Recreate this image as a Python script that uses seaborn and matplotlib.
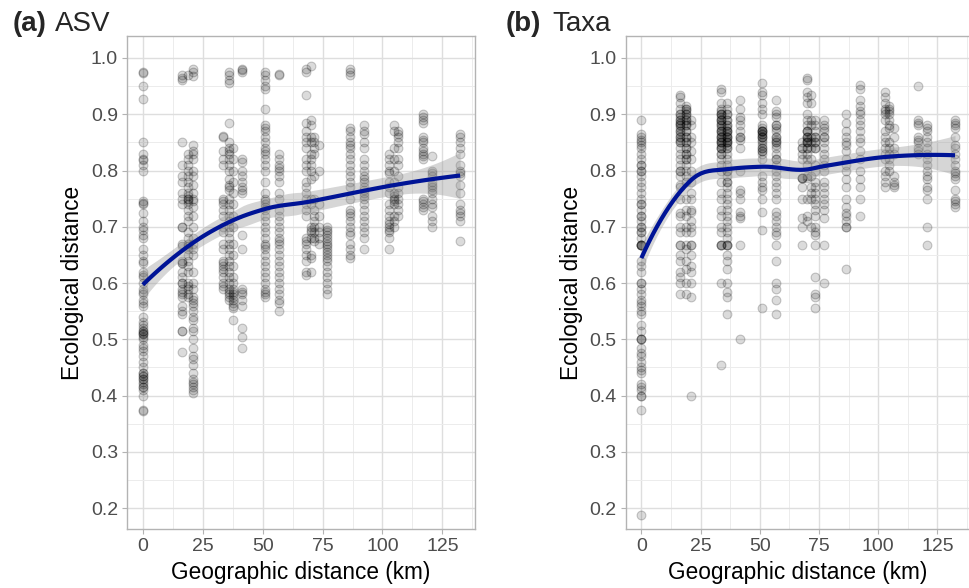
import numpy as np
import pandas as pd
import matplotlib
matplotlib.use("Agg")
import matplotlib.pyplot as plt
import seaborn as sns

# site-pair distances (km), one column of points per distance
dist = [0, 16.5, 19, 21, 33.5, 36, 37.5, 41.5, 51, 57, 68, 70, 71.5, 73.5, 77,
        86.3, 92.3, 102.7, 104.7, 106.6, 116.8, 120.6, 132.4]

# (a) ASV - ecological distance per column
asv_00 = [0.975, 0.973, 0.95, 0.927, 0.85, 0.83, 0.82, 0.818, 0.81, 0.80, 0.745, 0.742,
          0.74, 0.725, 0.71, 0.70, 0.695, 0.685, 0.68, 0.66, 0.65, 0.64, 0.635, 0.62,
          0.615, 0.61, 0.60, 0.59, 0.585, 0.58, 0.57, 0.565, 0.56, 0.54, 0.53, 0.525,
          0.52, 0.515, 0.515, 0.512, 0.51, 0.51, 0.505, 0.50, 0.49, 0.485, 0.48, 0.47,
          0.46, 0.45, 0.44, 0.44, 0.435, 0.435, 0.43, 0.43, 0.425, 0.42, 0.415, 0.415,
          0.41, 0.40, 0.375, 0.372]
asv_16 = [0.97, 0.965, 0.96, 0.85, 0.81, 0.79, 0.78, 0.76, 0.75, 0.74, 0.70, 0.70,
          0.67, 0.665, 0.64, 0.635, 0.635, 0.62, 0.61, 0.60, 0.60, 0.59, 0.585, 0.58,
          0.575, 0.56, 0.55, 0.545, 0.515, 0.515, 0.478]
asv_19 = [0.97, 0.83, 0.82, 0.81, 0.80, 0.79, 0.78, 0.77, 0.76, 0.755, 0.75, 0.75,
          0.745, 0.74, 0.73, 0.72, 0.71, 0.69, 0.68, 0.67, 0.665, 0.66, 0.65, 0.64,
          0.63, 0.62, 0.60, 0.595, 0.59, 0.58, 0.575]
asv_21 = [0.98, 0.975, 0.968, 0.845, 0.835, 0.83, 0.82, 0.80, 0.79, 0.775, 0.76, 0.75,
          0.745, 0.735, 0.72, 0.70, 0.68, 0.67, 0.66, 0.65, 0.62, 0.60, 0.59, 0.575,
          0.57, 0.565, 0.56, 0.55, 0.54, 0.535, 0.52, 0.515, 0.50, 0.485, 0.47, 0.465,
          0.455, 0.44, 0.43, 0.425, 0.42, 0.415, 0.41, 0.405]
asv_33 = [0.862, 0.86, 0.835, 0.82, 0.81, 0.75, 0.745, 0.74, 0.73, 0.72, 0.70, 0.69,
          0.67, 0.66, 0.64, 0.635, 0.63, 0.625, 0.62, 0.61, 0.60, 0.595, 0.59]
asv_36 = [0.975, 0.97, 0.96, 0.955, 0.885, 0.85, 0.84, 0.835, 0.83, 0.82, 0.81, 0.80,
          0.785, 0.775, 0.77, 0.765, 0.75, 0.74, 0.73, 0.72, 0.71, 0.70, 0.69, 0.68,
          0.67, 0.66, 0.65, 0.64, 0.63, 0.62, 0.61, 0.60, 0.59, 0.585, 0.58, 0.575, 0.57]
asv_37 = [0.84, 0.82, 0.80, 0.78, 0.76, 0.74, 0.72, 0.70, 0.67, 0.65, 0.63, 0.61,
          0.60, 0.59, 0.585, 0.58, 0.575, 0.57, 0.565, 0.56, 0.555, 0.535]
asv_41 = [0.98, 0.978, 0.975, 0.82, 0.815, 0.80, 0.79, 0.78, 0.77, 0.765, 0.76, 0.685,
          0.66, 0.59, 0.585, 0.58, 0.57, 0.56, 0.52, 0.505, 0.485]
asv_51 = [0.975, 0.97, 0.96, 0.95, 0.945, 0.91, 0.88, 0.875, 0.87, 0.86, 0.85, 0.84,
          0.835, 0.83, 0.82, 0.81, 0.80, 0.78, 0.76, 0.75, 0.745, 0.74, 0.735, 0.73,
          0.72, 0.71, 0.70, 0.69, 0.68, 0.67, 0.665, 0.66, 0.65, 0.64, 0.63, 0.62,
          0.61, 0.60, 0.59, 0.585, 0.58, 0.575]
asv_57 = [0.972, 0.97, 0.83, 0.82, 0.81, 0.805, 0.80, 0.79, 0.78, 0.76, 0.75, 0.73,
          0.72, 0.71, 0.70, 0.69, 0.68, 0.675, 0.67, 0.66, 0.65, 0.64, 0.63, 0.62,
          0.61, 0.60, 0.59, 0.58, 0.57, 0.565, 0.55]
asv_68 = [0.98, 0.975, 0.935, 0.885, 0.87, 0.86, 0.85, 0.84, 0.82, 0.81, 0.80, 0.78,
          0.77, 0.76, 0.75, 0.74, 0.73, 0.72, 0.68, 0.675, 0.67, 0.66, 0.65, 0.64,
          0.62, 0.615]
asv_70 = [0.985, 0.89, 0.88, 0.86, 0.85, 0.83, 0.82, 0.81, 0.80, 0.785, 0.75, 0.74,
          0.70, 0.695, 0.69, 0.68, 0.65, 0.645, 0.62]
asv_71 = [0.86, 0.85, 0.84, 0.83, 0.79, 0.75, 0.73, 0.72, 0.71, 0.70, 0.69, 0.68, 0.675]
asv_73 = [0.845, 0.80, 0.74, 0.72, 0.70, 0.69, 0.68, 0.67]
asv_77 = [0.70, 0.695, 0.69, 0.685, 0.68, 0.675, 0.67, 0.665, 0.66, 0.655, 0.65, 0.645,
          0.64, 0.63, 0.62, 0.61, 0.60, 0.59, 0.58]
asv_86 = [0.98, 0.975, 0.97, 0.875, 0.87, 0.86, 0.85, 0.845, 0.84, 0.83, 0.82, 0.81,
          0.80, 0.79, 0.78, 0.77, 0.75, 0.73, 0.725, 0.72, 0.71, 0.70, 0.69, 0.685,
          0.67, 0.66, 0.65, 0.645]
asv_92 = [0.88, 0.87, 0.865, 0.85, 0.84, 0.82, 0.81, 0.80, 0.79, 0.785, 0.78, 0.77,
          0.765, 0.76, 0.755, 0.75, 0.74, 0.73, 0.72, 0.71, 0.70, 0.69, 0.68, 0.66]
asv_102 = [0.83, 0.82, 0.81, 0.80, 0.795, 0.78, 0.77, 0.76, 0.74, 0.73, 0.72, 0.71,
           0.705, 0.70, 0.695, 0.69, 0.68, 0.66]
asv_104 = [0.88, 0.87, 0.84, 0.82, 0.80, 0.78, 0.76, 0.755, 0.75, 0.745, 0.74, 0.72,
           0.71, 0.70]
asv_106 = [0.87, 0.865, 0.86, 0.85, 0.84, 0.82, 0.81, 0.79, 0.77, 0.76, 0.75, 0.74,
           0.73, 0.72]
asv_116 = [0.90, 0.895, 0.89, 0.885, 0.86, 0.855, 0.85, 0.84, 0.835, 0.83, 0.825, 0.82,
           0.75, 0.745, 0.74, 0.735, 0.73]
asv_120 = [0.825, 0.80, 0.795, 0.79, 0.78, 0.775, 0.77, 0.765, 0.76, 0.75, 0.74, 0.735,
           0.72, 0.71, 0.70]
asv_132 = [0.865, 0.86, 0.85, 0.84, 0.83, 0.81, 0.80, 0.795, 0.79, 0.775, 0.76, 0.74,
           0.73, 0.725, 0.72, 0.71, 0.675]

# (b) Taxa - ecological distance per column
tax_00 = [0.89, 0.865, 0.86, 0.855, 0.85, 0.845, 0.84, 0.83, 0.82, 0.81, 0.81, 0.80,
          0.80, 0.79, 0.78, 0.77, 0.76, 0.75, 0.74, 0.74, 0.73, 0.72, 0.72, 0.71, 0.70,
          0.70, 0.69, 0.69, 0.68, 0.667, 0.667, 0.667, 0.667, 0.667, 0.64, 0.63, 0.62,
          0.60, 0.60, 0.59, 0.58, 0.57, 0.565, 0.56, 0.55, 0.545, 0.525, 0.515, 0.50,
          0.50, 0.50, 0.485, 0.475, 0.47, 0.46, 0.45, 0.445, 0.44, 0.42, 0.415, 0.41,
          0.40, 0.40, 0.375, 0.187]
tax_16 = [0.935, 0.93, 0.92, 0.91, 0.90, 0.90, 0.895, 0.89, 0.89, 0.885, 0.885, 0.88,
          0.88, 0.875, 0.87, 0.87, 0.865, 0.86, 0.86, 0.855, 0.85, 0.85, 0.84, 0.83,
          0.82, 0.81, 0.80, 0.80, 0.79, 0.775, 0.77, 0.75, 0.725, 0.72, 0.70, 0.69,
          0.667, 0.667, 0.65, 0.64, 0.62, 0.61, 0.60, 0.58]
tax_19 = [0.915, 0.91, 0.91, 0.905, 0.90, 0.90, 0.895, 0.89, 0.89, 0.885, 0.88, 0.88,
          0.87, 0.87, 0.86, 0.86, 0.85, 0.85, 0.84, 0.84, 0.83, 0.83, 0.82, 0.82, 0.81,
          0.80, 0.79, 0.78, 0.75, 0.73, 0.72, 0.70, 0.69, 0.667, 0.66, 0.64, 0.625,
          0.60, 0.58]
tax_21 = [0.89, 0.88, 0.86, 0.85, 0.835, 0.82, 0.80, 0.78, 0.76, 0.75, 0.73, 0.727,
          0.71, 0.70, 0.69, 0.667, 0.667, 0.65, 0.63, 0.62, 0.60, 0.575, 0.40]
tax_33 = [0.945, 0.94, 0.92, 0.91, 0.905, 0.90, 0.90, 0.90, 0.895, 0.89, 0.89, 0.89,
          0.885, 0.88, 0.88, 0.875, 0.87, 0.87, 0.87, 0.865, 0.86, 0.86, 0.86, 0.855,
          0.85, 0.85, 0.85, 0.845, 0.84, 0.84, 0.84, 0.83, 0.83, 0.82, 0.81, 0.80,
          0.78, 0.76, 0.75, 0.73, 0.72, 0.70, 0.69, 0.667, 0.667, 0.667, 0.60, 0.455]
tax_36 = [0.92, 0.91, 0.90, 0.90, 0.89, 0.89, 0.88, 0.88, 0.875, 0.87, 0.87, 0.87,
          0.865, 0.86, 0.86, 0.86, 0.855, 0.85, 0.85, 0.85, 0.845, 0.84, 0.84, 0.83,
          0.82, 0.81, 0.80, 0.80, 0.79, 0.78, 0.78, 0.77, 0.76, 0.75, 0.74, 0.73,
          0.72, 0.71, 0.70, 0.69, 0.68, 0.667, 0.667, 0.667, 0.65, 0.64, 0.625, 0.60,
          0.585, 0.575, 0.545]
tax_37 = []
tax_41 = [0.925, 0.91, 0.895, 0.89, 0.88, 0.87, 0.86, 0.86, 0.855, 0.84, 0.80, 0.765,
          0.76, 0.75, 0.727, 0.72, 0.715, 0.667, 0.50]
tax_51 = [0.955, 0.94, 0.935, 0.92, 0.91, 0.90, 0.88, 0.875, 0.87, 0.87, 0.87, 0.87,
          0.865, 0.865, 0.86, 0.86, 0.86, 0.855, 0.85, 0.845, 0.84, 0.84, 0.835, 0.835,
          0.83, 0.82, 0.79, 0.78, 0.77, 0.765, 0.75, 0.727, 0.695, 0.555]
tax_57 = [0.925, 0.905, 0.90, 0.895, 0.88, 0.88, 0.875, 0.87, 0.86, 0.86, 0.855,
          0.85, 0.85, 0.845, 0.84, 0.83, 0.82, 0.82, 0.81, 0.80, 0.79, 0.78, 0.77,
          0.76, 0.75, 0.727, 0.72, 0.71, 0.70, 0.69, 0.685, 0.667, 0.64, 0.60, 0.59,
          0.57, 0.545]
tax_68 = [0.85, 0.84, 0.84, 0.83, 0.82, 0.786, 0.786, 0.786, 0.77, 0.75, 0.715, 0.70,
          0.667]
tax_70 = [0.965, 0.96, 0.94, 0.93, 0.92, 0.90, 0.89, 0.88, 0.87, 0.87, 0.87, 0.86,
          0.86, 0.86, 0.855, 0.85, 0.85, 0.85, 0.84, 0.84, 0.83, 0.82, 0.81, 0.79,
          0.787, 0.75, 0.72, 0.71]
tax_71 = [0.935, 0.92, 0.89, 0.88, 0.86, 0.85, 0.84, 0.82, 0.79, 0.77, 0.76, 0.75, 0.70]
tax_73 = [0.89, 0.88, 0.87, 0.86, 0.86, 0.85, 0.85, 0.84, 0.84, 0.81, 0.80, 0.78,
          0.77, 0.76, 0.75, 0.74, 0.73, 0.72, 0.70, 0.69, 0.685, 0.667, 0.61, 0.58,
          0.575, 0.555]
tax_77 = [0.89, 0.88, 0.875, 0.87, 0.86, 0.86, 0.85, 0.84, 0.83, 0.82, 0.81, 0.80,
          0.78, 0.77, 0.76, 0.75, 0.74, 0.73, 0.715, 0.667, 0.60]
tax_86 = [0.90, 0.885, 0.87, 0.86, 0.85, 0.845, 0.835, 0.82, 0.81, 0.80, 0.785, 0.77,
          0.75, 0.735, 0.725, 0.72, 0.71, 0.70, 0.70, 0.625]
tax_92 = [0.952, 0.945, 0.925, 0.915, 0.905, 0.90, 0.89, 0.88, 0.87, 0.857, 0.85,
          0.835, 0.82, 0.80, 0.785, 0.77, 0.75, 0.72]
tax_102 = [0.94, 0.93, 0.92, 0.91, 0.905, 0.90, 0.89, 0.87, 0.86, 0.85, 0.84, 0.83,
           0.82, 0.80, 0.79, 0.78, 0.77]
tax_104 = [0.915, 0.91, 0.905, 0.90, 0.89, 0.88, 0.875, 0.85, 0.84, 0.83, 0.82, 0.81, 0.80]
tax_106 = [0.875, 0.86, 0.84, 0.83, 0.79, 0.78, 0.775, 0.77]
tax_116 = [0.95, 0.89, 0.885, 0.88, 0.86, 0.855, 0.85, 0.84, 0.835, 0.83]
tax_120 = [0.88, 0.875, 0.87, 0.86, 0.85, 0.84, 0.83, 0.82, 0.81, 0.80, 0.79, 0.785,
           0.77, 0.765, 0.75, 0.70, 0.667]
tax_132 = [0.89, 0.885, 0.88, 0.875, 0.86, 0.845, 0.84, 0.83, 0.82, 0.81, 0.80, 0.795,
           0.79, 0.785, 0.765, 0.75, 0.745, 0.74, 0.735]

asv_cols = [asv_00, asv_16, asv_19, asv_21, asv_33, asv_36, asv_37, asv_41, asv_51,
            asv_57, asv_68, asv_70, asv_71, asv_73, asv_77, asv_86, asv_92, asv_102,
            asv_104, asv_106, asv_116, asv_120, asv_132]
tax_cols = [tax_00, tax_16, tax_19, tax_21, tax_33, tax_36, tax_37, tax_41, tax_51,
            tax_57, tax_68, tax_70, tax_71, tax_73, tax_77, tax_86, tax_92, tax_102,
            tax_104, tax_106, tax_116, tax_120, tax_132]


def to_frame(cols):
    rows = [(d, v) for d, vals in zip(dist, cols) for v in vals]
    return pd.DataFrame(rows, columns=["geo", "eco"])


def loess(x, y, xs, span=0.75, cell=0.2):
    # local quadratic fit with tricube weights (R loess defaults),
    # evaluated on kd-tree vertices and joined by cubic Hermite pieces
    n = len(x)
    q = int(np.floor(n * span))

    def coef_rows(x0):
        d = np.abs(x - x0)
        h = np.sort(d)[q - 1] * 1.0001
        w = np.clip(1 - (d / h) ** 3, 0, None) ** 3
        X = np.column_stack([np.ones(n), x - x0, (x - x0) ** 2])
        XtW = X.T * w
        return np.linalg.solve(XtW @ X, XtW)

    # kd-tree vertices
    fc = int(np.floor(n * span * cell))
    verts = {x.min(), x.max()}

    def split(vals):
        if len(vals) <= fc or vals[0] == vals[-1]:
            return
        m = len(vals) // 2
        v = 0.5 * (vals[m - 1] + vals[m])
        left, right = vals[vals <= v], vals[vals > v]
        if len(left) == 0 or len(right) == 0:
            return
        verts.add(v)
        split(left)
        split(right)

    split(np.sort(x))
    vx = np.array(sorted(verts))
    vrows = [coef_rows(v) for v in vx]
    vf = np.array([r[0] @ y for r in vrows])
    vs = np.array([r[1] @ y for r in vrows])

    idx = np.clip(np.searchsorted(vx, xs, side="right") - 1, 0, len(vx) - 2)
    x0, x1 = vx[idx], vx[idx + 1]
    hh = x1 - x0
    t = (xs - x0) / hh
    h00 = 2 * t ** 3 - 3 * t ** 2 + 1
    h10 = t ** 3 - 2 * t ** 2 + t
    h01 = -2 * t ** 3 + 3 * t ** 2
    h11 = t ** 3 - t ** 2
    fit = h00 * vf[idx] + h10 * hh * vs[idx] + h01 * vf[idx + 1] + h11 * hh * vs[idx + 1]

    # standard error from the direct local fit
    L = np.array([coef_rows(v)[0] for v in x])
    resid = y - L @ y
    M = np.eye(n) - L
    sigma2 = (resid ** 2).sum() / np.trace(M.T @ M)
    Le = np.array([coef_rows(v)[0] for v in xs])
    se = np.sqrt(sigma2 * (Le ** 2).sum(axis=1))
    return fit, se


sns.set_theme(style="whitegrid")
plt.rcParams["font.family"] = ["Liberation Sans", "DejaVu Sans"]

fig = plt.figure(figsize=(9.7, 5.88), dpi=100)
ax_a = fig.add_axes([127 / 970, 59 / 588, 348 / 970, 493 / 588])
ax_b = fig.add_axes([625.7 / 970, 59 / 588, 344 / 970, 493 / 588])

panels = [(ax_a, to_frame(asv_cols), "(a)", "ASV", 13, 55),
          (ax_b, to_frame(tax_cols), "(b)", "Taxa", 506, 552)]

for ax, df, tag, name, tx, nx in panels:
    sns.scatterplot(data=df, x="geo", y="eco", ax=ax, s=40,
                    facecolor=(0, 0, 0, 0.14), edgecolor=(0, 0, 0, 0.2),
                    linewidth=0.8, zorder=3)
    xs = np.linspace(df["geo"].min(), df["geo"].max(), 80)
    fit, se = loess(df["geo"].to_numpy(float), df["eco"].to_numpy(float), xs)
    ax.fill_between(xs, fit - 1.96 * se, fit + 1.96 * se, color="#999999",
                    alpha=0.4, linewidth=0, zorder=4)
    ax.plot(xs, fit, color="#001496", linewidth=3, zorder=5,
            solid_capstyle="butt")

    ax.set_xlim(-6.6, 138.6)
    ax.set_ylim(0.163, 1.039)
    ax.set_xticks([0, 25, 50, 75, 100, 125])
    ax.set_yticks([0.2, 0.3, 0.4, 0.5, 0.6, 0.7, 0.8, 0.9, 1.0])
    ax.set_yticklabels(["0.2", "0.3", "0.4", "0.5", "0.6", "0.7", "0.8", "0.9", "1.0"])
    ax.set_xticks([12.5, 37.5, 62.5, 87.5, 112.5, 137.5], minor=True)
    ax.set_yticks([0.25, 0.35, 0.45, 0.55, 0.65, 0.75, 0.85, 0.95], minor=True)
    ax.grid(which="major", color="#dedede", linewidth=1.0)
    ax.grid(which="minor", color="#ececec", linewidth=0.7)
    ax.set_axisbelow(True)
    ax.set_facecolor("white")
    for sp in ax.spines.values():
        sp.set_color("#b3b3b3")
        sp.set_linewidth(1.0)
    ax.tick_params(which="major", length=3.5, width=0.8, color="#b3b3b3",
                   labelsize=14, labelcolor="#4d4d4d", pad=3,
                   bottom=True, left=True)
    ax.tick_params(which="minor", length=0)

    ax.set_xlabel("Geographic distance (km)", fontsize=16.3, color="black")
    ax.set_ylabel("Ecological distance", fontsize=16.3, color="black")
    ax.xaxis.set_label_coords(0.5, -0.089)
    ax.xaxis.label.set_va("center")
    ax.yaxis.set_label_coords(-0.158, 0.5)
    ax.yaxis.label.set_va("center")

    fig.text(tx / 970, 1 - 24 / 588, tag, fontsize=20, fontweight="bold",
             va="center", ha="left")
    fig.text(nx / 970, 1 - 24 / 588, name, fontsize=20, va="center", ha="left")

fig.savefig("out.png", dpi=100)
